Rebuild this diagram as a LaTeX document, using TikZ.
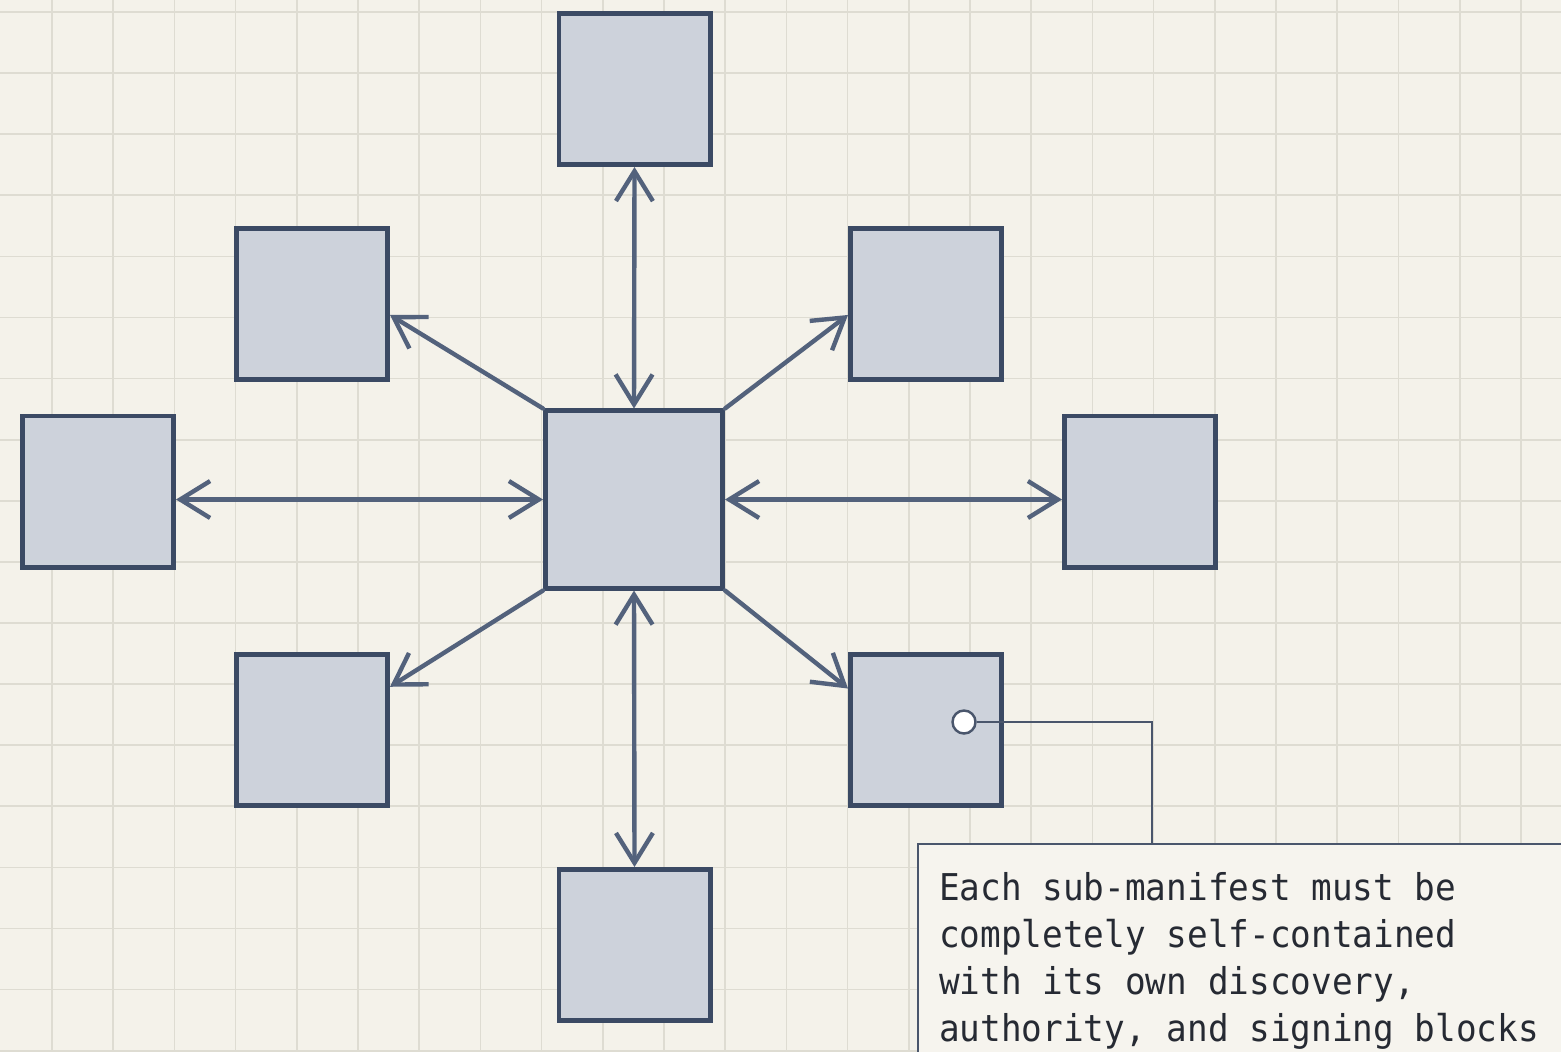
\documentclass[tikz,border=0pt]{standalone}
\usepackage{fontspec}
\usetikzlibrary{arrows.meta}
\newfontfamily\notefont{DejaVu Sans Mono}[FakeStretch=0.93]
\newcommand\notespacing{\spaceskip=0.56em\relax}
\definecolor{paper}{HTML}{F4F2EA}
\definecolor{gridcol}{HTML}{DEDCD2}
\definecolor{boxline}{HTML}{3B4A64}
\definecolor{boxfill}{HTML}{CDD2DB}
\definecolor{linkcol}{HTML}{53627C}
\definecolor{noteline}{HTML}{4A566C}
\definecolor{notefill}{HTML}{F6F4EE}
\definecolor{notetext}{HTML}{262A33}

\begin{document}
\begin{tikzpicture}[x=0.01cm,y=-0.01cm,
  box/.style={draw=boxline,fill=boxfill,line width=1.4pt,minimum size=1.51cm,inner sep=0pt},
  link/.style={draw=linkcol,line width=1.25pt,line cap=round,line join=round},
  gridline/.style={draw=gridcol,line width=0.5pt},
  leader/.style={draw=noteline,line width=0.7pt},
  note/.style={draw=noteline,fill=notefill,line width=0.7pt,text=notetext,
    text width=7cm,align=left,inner xsep=0.21cm,inner ysep=0.28cm,
    font=\notefont\fontsize{10.5}{13.4}\selectfont},
  >={Straight Barb[length=8.5pt,width=10.5pt]}]
\clip (0,0) rectangle (1561,1051);
\fill[paper] (0,0) rectangle (1561,1051);
% squared paper
\foreach \gx in {-9.2,52,...,1570} \draw[gridline] (\gx,0) -- (\gx,1051);
\foreach \gy in {12,73.1,...,1060} \draw[gridline] (0,\gy) -- (1561,\gy);

% hub and the eight blocks round it
\node[box,minimum size=1.77cm] (hub) at (634,499.5) {};
\node[box] (top) at (634.5,89) {};
\node[box] (bot) at (634.5,945) {};
\node[box] (west) at (98,491.5) {};
\node[box] (east) at (1140,491.5) {};
\node[box] (nw) at (312,304) {};
\node[box] (ne) at (926,304) {};
\node[box] (sw) at (312,730) {};
\node[box] (se) at (926,730) {};

% links
\draw[link,<->] (top.south) -- (hub.north);
\draw[link,<->] (hub.south) -- (bot.north);
\draw[link,<->] (west.east |- hub.west) -- (hub.west);
\draw[link,<->] (hub.east) -- (east.west |- hub.east);
\draw[link,->] (hub.north west) -- (nw.-8);
\draw[link,->] (hub.north east) -- (ne.188);
\draw[link,->] (hub.south west) -- (sw.29);
\draw[link,->] (hub.south east) -- (se.152);

% callout
\node[note,anchor=north west] (note) at (917,843)
  {\notespacing Each sub-manifest must be\\
   completely self-contained\\
   with its own discovery,\\
   authority, and signing blocks};
\node[circle,draw=noteline,fill=white,line width=0.7pt,minimum size=0.23cm,inner sep=0pt] (pin) at (964,722) {};
\coordinate (drop) at ([xshift=2.35cm]note.north west);
\draw[leader] (pin.east) -| (drop);
\end{tikzpicture}
\end{document}
